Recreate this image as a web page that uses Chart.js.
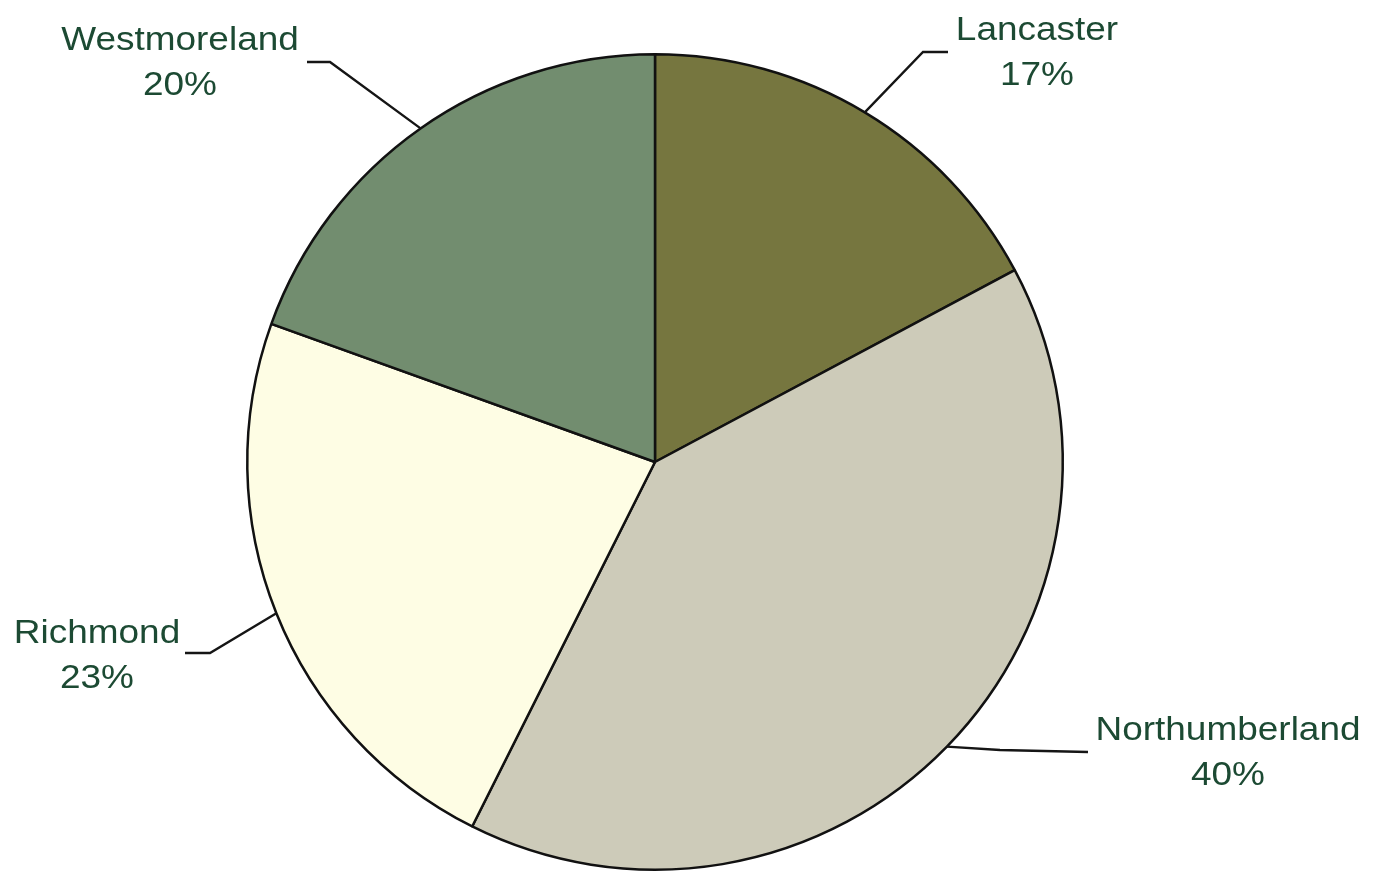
<!DOCTYPE html>
<html>
<head>
<meta charset="utf-8">
<title>Pie chart</title>
<script src="https://cdn.jsdelivr.net/npm/chart.js@4/dist/chart.umd.min.js"></script>
<style>
  html, body { margin: 0; padding: 0; background: #ffffff; }
  #wrap { width: 1376px; height: 880px; position: relative; }
</style>
</head>
<body>
<div id="wrap"><canvas id="pieChart"></canvas></div>
<script>
/* ---------- Data ---------- */
const regions = ['Lancaster', 'Northumberland', 'Richmond', 'Westmoreland'];
const shares  = [17.2, 40.2, 23.1, 19.5];
const sliceColors = ['#76763f', '#cdcbb9', '#fefde4', '#728d6f'];

/* ---------- Label placement (leader elbow, line end, text centre) ---------- */
const labelLayout = [
  { elbow: [923, 52],   end: [948, 52],   tx: 1037, ty: 40 },   // Lancaster
  { elbow: [1000, 750], end: [1088, 752], tx: 1228, ty: 740 },  // Northumberland
  { elbow: [210, 653],  end: [185, 653],  tx: 97,   ty: 643 },  // Richmond
  { elbow: [330, 62],   end: [307, 62],   tx: 180,  ty: 50 }    // Westmoreland
];

const total = shares.reduce((a, b) => a + b, 0);

// Leader lines + two-line labels, anchored on each arc's outer mid-point
const outsideLabels = {
  id: 'outsideLabels',
  afterDatasetsDraw(chart) {
    const ctx = chart.ctx;
    const meta = chart.getDatasetMeta(0);
    meta.data.forEach((arc, i) => {
      const p = arc.getProps(['x', 'y', 'startAngle', 'endAngle', 'outerRadius'], true);
      const mid = (p.startAngle + p.endAngle) / 2;
      const sx = p.x + Math.cos(mid) * p.outerRadius;
      const sy = p.y + Math.sin(mid) * p.outerRadius;
      const lay = labelLayout[i];

      ctx.save();
      ctx.strokeStyle = '#151515';
      ctx.lineWidth = 2.4;
      ctx.beginPath();
      ctx.moveTo(sx, sy);
      ctx.lineTo(lay.elbow[0], lay.elbow[1]);
      ctx.lineTo(lay.end[0], lay.end[1]);
      ctx.stroke();
      ctx.restore();

      const pct = Math.round(shares[i] / total * 100) + '%';
      ctx.save();
      ctx.fillStyle = '#1c4a33';
      ctx.font = "33px 'Liberation Sans', Arial, sans-serif";
      ctx.textAlign = 'center';
      ctx.textBaseline = 'alphabetic';
      ctx.translate(lay.tx, lay.ty);
      ctx.scale(1.12, 1);  // reference type is a little wide
      ctx.fillText(regions[i], 0, 0);
      ctx.fillText(pct, 0, 45);
      ctx.restore();
    });
  }
};

new Chart(document.getElementById('pieChart'), {
  type: 'pie',
  data: {
    labels: regions,
    datasets: [{
      data: shares,
      backgroundColor: sliceColors,
      borderColor: '#111111',
      borderWidth: 2.5
    }]
  },
  options: {
    responsive: true,
    maintainAspectRatio: false,
    animation: false,
    layout: {
      padding: { left: 246, right: 312, top: 53, bottom: 9 }
    },
    plugins: {
      legend: { display: false },
      tooltip: { enabled: false }
    }
  },
  plugins: [outsideLabels]
});
</script>
</body>
</html>
